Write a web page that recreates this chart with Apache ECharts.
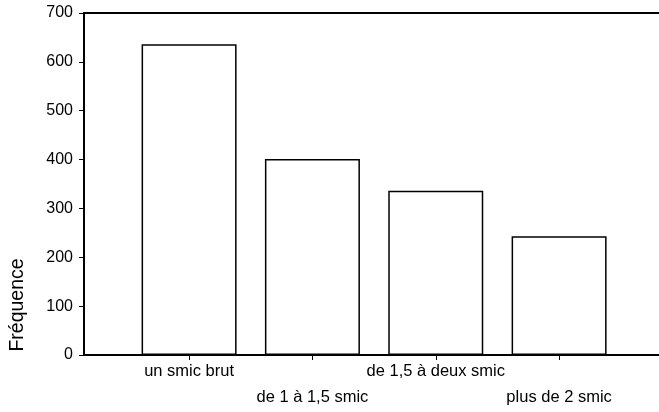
<!DOCTYPE html>
<html>
<head>
<meta charset="utf-8">
<script src="https://cdn.jsdelivr.net/npm/echarts@6/dist/echarts.min.js"></script>
<style>
  html, body { margin: 0; padding: 0; background: #fff; }
  #chart { width: 659px; height: 412px; }
</style>
</head>
<body>
<div id="chart"></div>
<script>
const categories = ['un smic brut', 'de 1 à 1,5 smic', 'de 1,5 à deux smic', 'plus de 2 smic']
const positions = [1, 2, 3, 4]
const frequencies = [636, 401, 336, 243]
const yTicks = [0, 100, 200, 300, 400, 500, 600, 700]

const font = 'Liberation Sans, Arial, sans-serif'
const chart = echarts.init(document.getElementById('chart'))

const option = {
  animation: false,
  grid: { left: 84, right: 0, top: 13, bottom: 57 },
  xAxis: [
    {
      type: 'value',
      position: 'bottom',
      min: 0.148,
      max: 4.81,
      splitLine: { show: false },
      axisLine: { show: true, lineStyle: { color: '#000', width: 2 } },
      axisTick: { show: true, customValues: positions, length: 5, lineStyle: { color: '#000', width: 1 } },
      axisLabel: {
        customValues: positions,
        margin: 8,
        color: '#000',
        fontFamily: font,
        fontSize: 16.5,
        formatter: (v) => {
          const i = positions.indexOf(v)
          if (i < 0) return ''
          return i % 2 === 1 ? '{low|' + categories[i] + '}' : categories[i]
        },
        rich: {
          low: { padding: [26, 0, 0, 0], fontSize: 16.5, fontFamily: font, color: '#000' }
        }
      }
    },
    {
      type: 'value',
      position: 'top',
      min: 0.148,
      max: 4.81,
      splitLine: { show: false },
      axisLine: { show: true, lineStyle: { color: '#000', width: 2 } },
      axisTick: { show: false },
      axisLabel: { show: false }
    }
  ],
  yAxis: {
    type: 'value',
    min: yTicks[0],
    max: yTicks[yTicks.length - 1],
    interval: 100,
    splitLine: { show: false },
    axisLine: { show: true, lineStyle: { color: '#000', width: 2 } },
    axisTick: { show: true, length: 5, lineStyle: { color: '#000', width: 1 } },
    axisLabel: { margin: 11, color: '#000', fontFamily: font, fontSize: 16 }
  },
  graphic: [
    {
      type: 'text',
      x: 17.5,
      y: 305,
      rotation: Math.PI / 2,
      style: {
        text: 'Fréquence',
        fill: '#000',
        font: '19.5px ' + font,
        textAlign: 'center',
        textVerticalAlign: 'middle'
      }
    }
  ],
  series: [
    {
      type: 'bar',
      barWidth: 95,
      data: positions.map((p, i) => [p, frequencies[i]]),
      itemStyle: { color: '#fff', borderColor: '#000', borderWidth: 1.5 }
    }
  ]
}

chart.setOption(option)
</script>
</body>
</html>
